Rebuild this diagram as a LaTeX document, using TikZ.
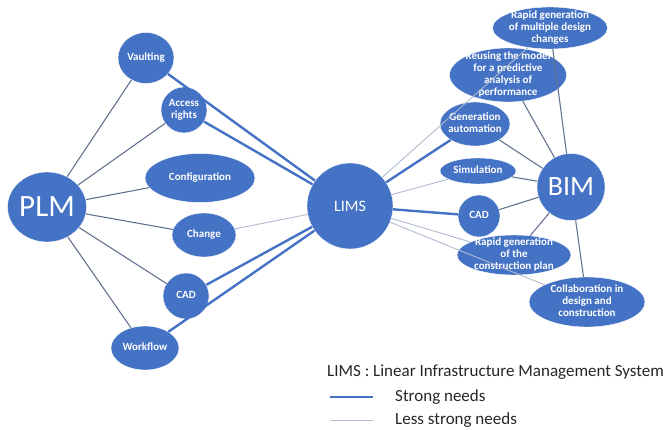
\documentclass[tikz,border=0pt]{standalone}
\usepackage{fontspec}
\setmainfont{Carlito}
\usetikzlibrary{shapes}
\definecolor{nodeblue}{HTML}{4472C4}
\definecolor{midline}{HTML}{63738F}
\definecolor{lightline}{HTML}{AFBBD0}
% text of a bubble, kept out of the shape size
\newcommand{\btext}[1]{\makebox[0pt]{\smash{\raisebox{-3pt}{\begin{tabular}{@{}c@{}}#1\end{tabular}}}}}

\begin{document}
\begin{tikzpicture}[x=1pt,y=-1pt]
\tikzstyle{bub}=[ellipse,fill=nodeblue,draw=white,line width=0.4pt,text=white,inner sep=0pt,font=\bfseries\fontsize{11}{12}\selectfont]
\tikzstyle{big}=[ellipse,fill=nodeblue,draw=white,line width=0.4pt,text=white,inner sep=0pt,font=\fontsize{29}{30}\selectfont]
\tikzstyle{strong}=[nodeblue,line width=2.4pt]
\tikzstyle{mid}=[midline,line width=1.1pt]
\tikzstyle{weak}=[lightline,line width=0.9pt]
\tikzstyle{legend}=[anchor=west,inner sep=0pt,text=black!85,font=\fontsize{17}{20}\selectfont]
\useasboundingbox (0,0) rectangle (671,430);

\node[big,minimum width=79,minimum height=70,font=\fontsize{31}{32}\selectfont](plm) at (47,207) {PLM};
\node[bub,minimum width=56,minimum height=51](vault) at (146,58) {\btext{Vaulting}};
\node[bub,minimum width=46,minimum height=46](access) at (184,110) {\btext{Access\\rights}};
\node[bub,minimum width=110,minimum height=49](config) at (200,178) {\btext{Configuration}};
\node[bub,minimum width=64,minimum height=44](change) at (204,235) {\btext{Change}};
\node[bub,minimum width=46,minimum height=46](cadl) at (186,296) {\btext{CAD}};
\node[bub,minimum width=68,minimum height=44](work) at (145,348) {\btext{Workflow}};

\node[big,minimum width=86,minimum height=86,font=\fontsize{16}{18}\selectfont](lims) at (350,206) {LIMS};

\node[big,minimum width=68,minimum height=67,font=\fontsize{28}{30}\selectfont](bim) at (571,187) {BIM};
\node[bub,minimum width=115,minimum height=42](rmulti) at (550,28) {\btext{Rapid generation\\of multiple design\\changes}};
\node[bub,minimum width=117,minimum height=54](reuse) at (508,75) {\btext{Reusing the model\\for a predictive\\analysis of\\performance}};
\node[bub,minimum width=70,minimum height=44](genauto) at (475,124) {\btext{Generation\\automation}};
\node[bub,minimum width=76,minimum height=26](simul) at (478,171) {\btext{Simulation}};
\node[bub,minimum width=42,minimum height=42](cadr) at (479,216) {\btext{CAD}};
\node[bub,minimum width=114,minimum height=40](rplan) at (514,255) {\btext{Rapid generation\\of the\\construction plan}};
\node[bub,minimum width=116,minimum height=50](collab) at (587,302) {\btext{Collaboration in\\design and\\construction}};

% PLM side
\draw[mid] (plm) -- (vault);
\draw[mid] (plm) -- (access);
\draw[mid] (plm) -- (config);
\draw[mid] (plm) -- (change);
\draw[mid] (plm) -- (cadl);
\draw[mid] (plm) -- (work);

% LIMS needs
\draw[strong] (vault) -- (lims);
\draw[strong] (access) -- (lims);
\draw[strong] (cadl) -- (lims);
\draw[strong] (work) -- (lims);
\draw[strong] (lims) -- (genauto);
\draw[strong] (lims) -- (cadr);
\draw[weak] (change) -- (lims);
\draw[weak] (lims) -- (rmulti);
\draw[weak] (lims) -- (simul);
\draw[weak] (lims) -- (rplan);
\draw[weak] (lims) -- (collab);

% BIM side
\draw[mid] (bim) -- (rmulti);
\draw[mid] (bim) -- (reuse);
\draw[mid] (bim) -- (genauto);
\draw[mid] (bim) -- (simul);
\draw[mid] (bim) -- (cadr);
\draw[mid] (bim) -- (rplan);
\draw[mid] (bim) -- (collab);

% legend
\node[legend](title) at (327,372) {LIMS : Linear Infrastructure Management System};
\coordinate (s1) at (330,397);
\coordinate (s2) at (373,397);
\coordinate (w1) at (330,420);
\coordinate (w2) at (373,420);
\draw[strong,line width=2pt] (s1) -- (s2);
\draw[weak] (w1) -- (w2);
\node[legend](strongtxt) at (395,397) {Strong needs};
\node[legend](weaktxt) at (395,420) {Less strong needs};
\end{tikzpicture}
\end{document}
